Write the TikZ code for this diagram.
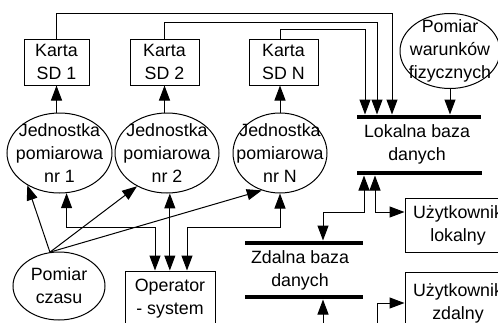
\documentclass[tikz,border=0pt]{standalone}
\usepackage{fontspec}
\setmainfont{Liberation Sans}
\usetikzlibrary{shapes.geometric,arrows.meta}

\tikzset{
  karta/.style={draw, rectangle, align=center, inner sep=0pt, minimum height=46pt},
  jedn/.style={draw, ellipse, align=center, inner sep=-12pt},
  szyna/.style={fill=black, rectangle, inner sep=0pt, minimum height=4pt},
  strz/.style={-{Triangle[length=15pt,width=11pt]}},
  dstrz/.style={{Triangle[length=15pt,width=11pt]}-{Triangle[length=15pt,width=11pt]}}
}

\begin{document}
\begin{tikzpicture}[x=1pt, y=-1pt, line width=1pt, font=\fontsize{17.8}{23}\selectfont]
    \clip (0,0) rectangle (498,322);

    % karty SD
    \node[karta, minimum width=65pt] (k1) at (56.5,62) {Karta\\SD 1};
    \node[karta, minimum width=69pt] (k2) at (164.5,62) {Karta\\SD 2};
    \node[karta, minimum width=69pt] (kN) at (283.5,62) {Karta\\SD N};

    % jednostki pomiarowe
    \node[jedn, minimum width=105pt, minimum height=80pt] (j1) at (59.5,153) {Jednostka\\pomiarowa\\nr 1};
    \node[jedn, minimum width=104pt, minimum height=80pt] (j2) at (167,153) {Jednostka\\pomiarowa\\nr 2};
    \node[jedn, minimum width=94pt, minimum height=80pt] (jN) at (280,153) {Jednostka\\pomiarowa\\nr N};

    \node[jedn, minimum width=92pt, minimum height=68pt] (pc) at (59,286) {Pomiar\\czasu};
    \node[karta, minimum width=90pt, minimum height=56pt] (op) at (170,299) {Operator\\- system};
    \node[jedn, minimum width=100pt, minimum height=75pt] (pw) at (450,51) {Pomiar\\warunk\'ow\\fizycznych};

    % bazy danych
    \node[szyna, minimum width=124pt] (lokg) at (419,117) {};
    \node[szyna, minimum width=125pt] (lokd) at (419.5,173) {};
    \node[align=center] (lok) at (417,144) {Lokalna baza\\danych};
    \node[szyna, minimum width=118pt] (zdg) at (304,243) {};
    \node[szyna, minimum width=118pt] (zdd) at (304,297) {};
    \node[align=center] (zd) at (300,270) {Zdalna baza\\danych};

    \node[karta, minimum width=106pt, minimum height=54pt] (ul) at (458,225) {Użytkownik\\lokalny};
    \node[karta, minimum width=106pt, minimum height=62pt] (uz) at (458,303) {Użytkownik\\zdalny};

    % karty -> baza lokalna
    \coordinate (t1) at (392,13);
    \coordinate (t2) at (377,22);
    \coordinate (t3) at (365,29);
    \draw[strz] (k1.north) |- (t1) -- (t1 |- lokg.north);
    \draw[strz] (k2.north) |- (t2) -- (t2 |- lokg.north);
    \draw[strz] (jN.north |- kN.north) |- (t3) -- (t3 |- lokg.north);
    \draw[strz] (pw.south) -- (pw.south |- lokg.north);

    % jednostki -> karty
    \draw[strz] (k1.south |- j1.north) -- (k1.south);
    \draw[strz] (k2.south |- j2.north) -- (k2.south);
    \draw[strz] (jN.north) -- (jN.north |- kN.south);

    % pomiar czasu
    \draw[strz] (pc.105) -- (j1.225);
    \draw[strz] (pc.105) -- (j2.228);
    \draw[strz] (pc.105) -- (jN.244);

    % jednostki <-> operator
    \coordinate (r1) at (155,227);
    \coordinate (r2) at (187,227);
    \draw[dstrz] (j1.280) |- (r1) -- (r1 |- op.north);
    \draw[dstrz] (j2.274) -- (j2.274 |- op.north);
    \draw[dstrz] (jN.south) |- (r2) -- (r2 |- op.north);

    % baza lokalna <-> zdalna, uzytkownicy
    \coordinate (s0) at (364,212);
    \coordinate (s1) at (323,212);
    \coordinate (s2) at (375,212);
    \draw[dstrz] (s0 |- lokd.south) -- (s0) -- (s1) -- (s1 |- zdg.north);
    \draw[dstrz] (s2 |- lokd.south) -- (s2) -- (s2 -| ul.west);
    \coordinate (s3) at (323,340);
    \coordinate (s4) at (377,340);
    \draw[strz] (s3) -- (s3 |- zdd.south);
    \draw[strz] (s4) |- (uz.west);
\end{tikzpicture}
\end{document}
